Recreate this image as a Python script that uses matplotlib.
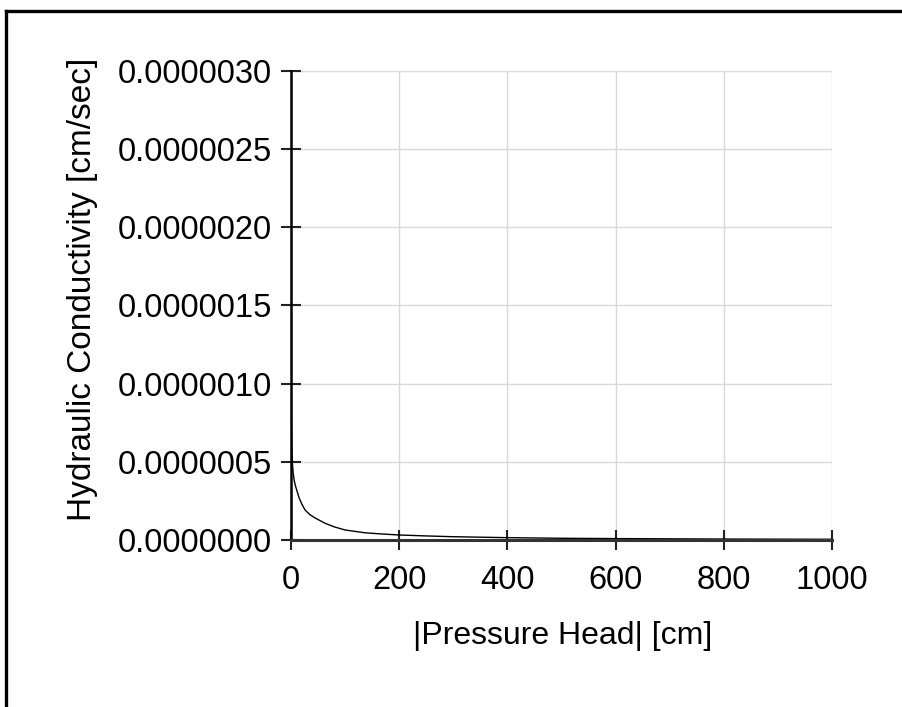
import matplotlib
matplotlib.use("Agg")
import matplotlib.pyplot as plt
from matplotlib.lines import Line2D

plt.rcParams['font.family'] = ['Liberation Sans', 'DejaVu Sans']

# Data
pressure_head = [0, 0.5, 1, 1.5, 2.4, 4, 6, 8, 10.5, 15, 20, 26, 35, 45, 63, 80, 100,
                 137, 170, 200, 250, 300, 400, 500, 600, 700, 800, 900, 1000]
conductivity = [1.0e-6, 8.2e-7, 7.0e-7, 6.0e-7, 5.0e-7, 4.3e-7, 3.8e-7, 3.5e-7, 3.2e-7,
                2.7e-7, 2.3e-7, 1.92e-7, 1.62e-7, 1.4e-7, 1.07e-7, 0.84e-7, 0.64e-7,
                0.46e-7, 0.38e-7, 0.32e-7, 0.26e-7, 0.21e-7, 0.15e-7, 0.11e-7, 0.09e-7,
                0.075e-7, 0.06e-7, 0.052e-7, 0.045e-7]
x_ticks = [0, 200, 400, 600, 800, 1000]
y_ticks = [0.0, 0.5e-6, 1.0e-6, 1.5e-6, 2.0e-6, 2.5e-6, 3.0e-6]
y_tick_labels = ["0.0000000", "0.0000005", "0.0000010", "0.0000015",
                 "0.0000020", "0.0000025", "0.0000030"]

fig = plt.figure(figsize=(9.03, 7.07), dpi=100)
ax = fig.add_axes([291/903, 1-540/707, (832-291)/903, (540-71)/707])

ax.plot(pressure_head, conductivity, color='black', lw=1.0, zorder=3)

ax.set_xlim(0, 1000)
ax.set_ylim(0, 3.0e-6)
ax.set_xticks(x_ticks)
ax.set_xticklabels([str(t) for t in x_ticks])
ax.set_yticks(y_ticks)
ax.set_yticklabels(y_tick_labels)

ax.grid(True, color='#d9d9d9', lw=1.0, zorder=0)
ax.set_axisbelow(True)
for s in ['top', 'right']:
    ax.spines[s].set_visible(False)
ax.spines['left'].set_linewidth(1.8)
ax.spines['left'].set_color('black')
ax.spines['bottom'].set_linewidth(2.2)
ax.spines['bottom'].set_color('#333333')
ax.spines['left'].set_zorder(4)
ax.spines['bottom'].set_zorder(4)

ax.tick_params(axis='both', direction='inout', length=14.5, width=1.5, color='#222222',
               labelsize=23.5, labelcolor='black')
ax.tick_params(axis='x', pad=11)
ax.tick_params(axis='y', pad=6.5)

ax.set_xlabel("|Pressure Head| [cm]", fontsize=23, va='center')
ax.set_ylabel("Hydraulic Conductivity [cm/sec]", fontsize=24, va='center')
ax.xaxis.set_label_coords((563-291)/541, (540-636)/469)
ax.yaxis.set_label_coords((83-291)/541, (540-289)/469)

# Outer frame (partially cut at right and bottom)
W, H = 903, 707
fig.add_artist(Line2D([5.5/W, 5.5/W], [0, 1-11/H], transform=fig.transFigure,
                      color='black', lw=2.4, solid_capstyle='projecting'))
fig.add_artist(Line2D([5.5/W, 1], [1-11/H, 1-11/H], transform=fig.transFigure,
                      color='black', lw=2.4, solid_capstyle='projecting'))

fig.savefig("out.png", dpi=100)
